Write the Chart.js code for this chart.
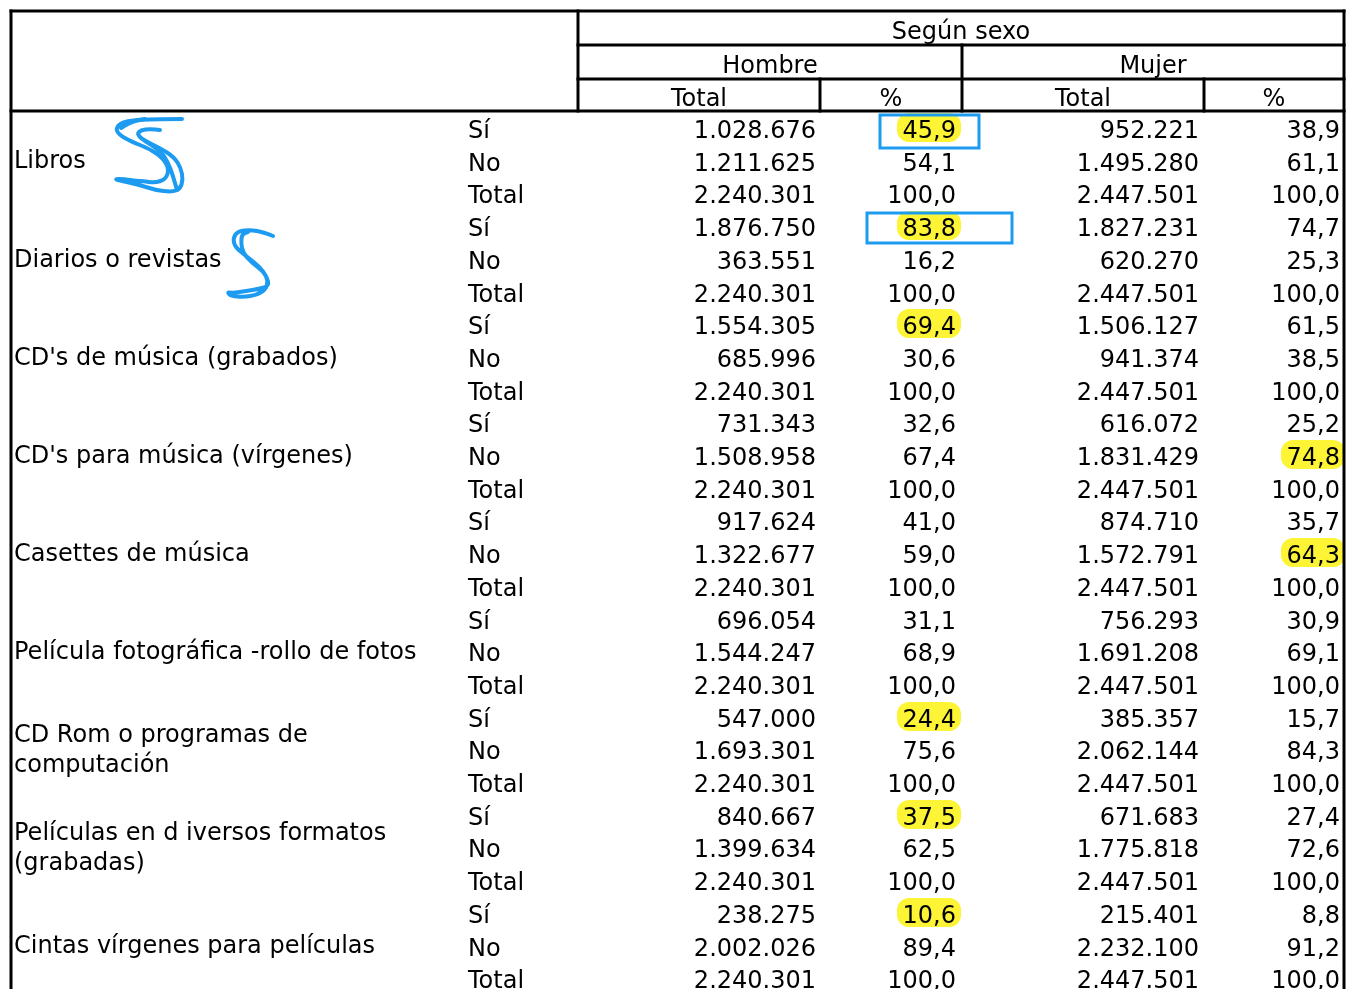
<!DOCTYPE html>
<html><head><meta charset="utf-8">
<script src="https://cdn.jsdelivr.net/npm/chart.js@4/dist/chart.umd.min.js"></script>
<style>html,body{margin:0;padding:0;background:#fff}#wrap{position:relative;width:1346px;height:989px}</style>
</head><body><div id="wrap"><canvas id="c"></canvas></div>
<script>
// ---------- DATA ----------
const categories = ['Libros', 'Diarios o revistas', "CD's de música (grabados)", "CD's para música (vírgenes)",
  'Casettes de música', 'Película fotográfica -rollo de fotos', 'CD Rom o programas de\ncomputación',
  'Películas en d iversos formatos\n(grabadas)', 'Cintas vírgenes para películas'];
const responses = ['Sí', 'No', 'Total'];
const headerTop = 'Según sexo';
const sexes = ['Hombre', 'Mujer'];
const subHeaders = ['Total', '%'];
const hombreTotal = [1028676, 1211625, 2240301, 1876750, 363551, 2240301, 1554305, 685996, 2240301,
  731343, 1508958, 2240301, 917624, 1322677, 2240301, 696054, 1544247, 2240301,
  547000, 1693301, 2240301, 840667, 1399634, 2240301, 238275, 2002026, 2240301];
const hombrePct = [45.9, 54.1, 100.0, 83.8, 16.2, 100.0, 69.4, 30.6, 100.0, 32.6, 67.4, 100.0, 41.0, 59.0, 100.0,
  31.1, 68.9, 100.0, 24.4, 75.6, 100.0, 37.5, 62.5, 100.0, 10.6, 89.4, 100.0];
const mujerTotal = [952221, 1495280, 2447501, 1827231, 620270, 2447501, 1506127, 941374, 2447501,
  616072, 1831429, 2447501, 874710, 1572791, 2447501, 756293, 1691208, 2447501,
  385357, 2062144, 2447501, 671683, 1775818, 2447501, 215401, 2232100, 2447501];
const mujerPct = [38.9, 61.1, 100.0, 74.7, 25.3, 100.0, 61.5, 38.5, 100.0, 25.2, 74.8, 100.0, 35.7, 64.3, 100.0,
  30.9, 69.1, 100.0, 15.7, 84.3, 100.0, 27.4, 72.6, 100.0, 8.8, 91.2, 100.0];
// highlighted cells [series, row]
const highlighted = [['hombrePct', 0], ['hombrePct', 3], ['hombrePct', 6], ['hombrePct', 18], ['hombrePct', 21],
  ['hombrePct', 24], ['mujerPct', 10], ['mujerPct', 13]];
const boxed = [['hombrePct', 0], ['hombrePct', 3]];

// ---------- LAYOUT (x in table units, y in row units) ----------
const FONT = '24px "DejaVu Sans", Verdana, sans-serif';
const ROW_PX = 32.7, ROW0_PX = 130, H = 989, W = 1346;
const colEdges = { left: 11, label: 578, hTot: 820, sexMid: 962, mTot: 1204, right: 1344 };
const anchors = { category: 14, response: 468, hombreTotal: 816, hombrePct: 956, mujerTotal: 1199, mujerPct: 1340 };
const hLines = { top: -3.639, sexo: -2.599, sex: -1.56, header: -0.581 };
const headerRows = { top: -3.03, sex: -2.0, sub: -0.98 };
const boxExtents = [{ x0: 880, x1: 979, t: -15, b: 18 }, { x0: 867, x1: 1012, t: -15, b: 15 }];

const fmtInt = n => String(n).replace(/\B(?=(\d{3})+(?!\d))/g, '.');
const fmtPct = v => v.toFixed(1).replace('.', ',');

const seriesMap = { hombreTotal, hombrePct, mujerTotal, mujerPct };
function numDataset(key, fmt) {
  return { label: key, key, align: 'right', fmt,
    data: seriesMap[key].map((v, i) => ({ x: anchors[key], y: i, t: fmt(v) })) };
}
const datasets = [
  { label: 'category', key: 'category', align: 'left',
    data: categories.map((c, g) => ({ x: anchors.category, y: g * 3 + 1 - 0.07, t: c })) },
  { label: 'response', key: 'response', align: 'left',
    data: hombreTotal.map((_, i) => ({ x: anchors.response, y: i, t: responses[i % 3] })) },
  numDataset('hombreTotal', fmtInt), numDataset('hombrePct', fmtPct),
  numDataset('mujerTotal', fmtInt), numDataset('mujerPct', fmtPct)
];
datasets.forEach(d => { d.pointRadius = 0; d.pointHoverRadius = 0; d.showLine = false; });

const scribbles = [
  [[182,119],[150,119],[125,121],[116,127],[118,134],[130,141],[150,149],[163,158],[169,169],[166,179],[155,183],[143,181],[136,181],[124,179],[114,179],[122,181],[140,185],[155,190],[172,192],[180,189],[183,180],[181,168],[174,157],[160,148],[143,140],[137,134],[141,130],[150,129],[160,130]],
  [[121,128],[130,122],[145,119]],
  [[145,141],[160,150],[168,162],[173,176],[177,190]],
  [[273,236],[263,232],[251,230],[238,231],[233,238],[235,247],[246,256],[259,266],[267,277],[269,286],[259,289],[246,291],[233,293],[227,292],[231,296],[244,297],[257,295],[266,289],[268,281],[264,272],[252,263],[243,253],[241,243],[242,234],[248,232]]
];

const tablePlugin = {
  id: 'tableDraw',
  beforeDatasetsDraw(chart) {
    const ctx = chart.ctx;
    ctx.save();
    ctx.font = FONT;
    ctx.fillStyle = '#fcf435';
    highlighted.forEach(([k, r]) => {
      const dsIndex = datasets.findIndex(d => d.key === k);
      const el = chart.getDatasetMeta(dsIndex).data[r];
      const txt = datasets[dsIndex].data[r].t;
      const w = ctx.measureText(txt).width;
      const x1 = el.x + 5, x0 = el.x - w - 6;
      const y0 = el.y - 17, y1 = el.y + 12;
      ctx.beginPath();
      ctx.roundRect(Math.round(x0), Math.round(y0), Math.round(x1 - x0), Math.round(y1 - y0), 12);
      ctx.fill();
    });
    ctx.restore();
  },
  afterDatasetsDraw(chart) {
    const ctx = chart.ctx, xs = chart.scales.x, ys = chart.scales.y;
    const X = v => Math.round(xs.getPixelForValue(v));
    const Y = v => Math.round(ys.getPixelForValue(v));
    ctx.save();
    ctx.font = FONT;
    ctx.fillStyle = '#000';
    ctx.textBaseline = 'alphabetic';
    datasets.forEach((ds, di) => {
      const meta = chart.getDatasetMeta(di);
      ctx.textAlign = ds.align;
      meta.data.forEach((el, i) => {
        const lines = ds.data[i].t.split('\n');
        const lh = 30;
        const start = el.y - (lines.length - 1) * lh / 2;
        lines.forEach((ln, j) => ctx.fillText(ln, el.x, start + j * lh + 8));
      });
    });
    ctx.textAlign = 'center';
    const mid = (a, b) => (X(a) + X(b)) / 2;
    ctx.fillText(headerTop, mid(colEdges.label, colEdges.right), Y(headerRows.top) + 8);
    ctx.fillText(sexes[0], mid(colEdges.label, colEdges.sexMid), Y(headerRows.sex) + 8);
    ctx.fillText(sexes[1], mid(colEdges.sexMid, colEdges.right), Y(headerRows.sex) + 8);
    ctx.fillText(subHeaders[0], mid(colEdges.label, colEdges.hTot), Y(headerRows.sub) + 8);
    ctx.fillText(subHeaders[1], mid(colEdges.hTot, colEdges.sexMid), Y(headerRows.sub) + 8);
    ctx.fillText(subHeaders[0], mid(colEdges.sexMid, colEdges.mTot), Y(headerRows.sub) + 8);
    ctx.fillText(subHeaders[1], mid(colEdges.mTot, colEdges.right), Y(headerRows.sub) + 8);
    ctx.strokeStyle = '#000';
    ctx.lineWidth = 3;
    ctx.lineCap = 'square';
    const line = (x0, y0, x1, y1) => { ctx.beginPath(); ctx.moveTo(x0, y0); ctx.lineTo(x1, y1); ctx.stroke(); };
    const yTop = Y(hLines.top), yS = Y(hLines.sexo), ySx = Y(hLines.sex), yH = Y(hLines.header);
    line(X(colEdges.left), yTop, X(colEdges.right), yTop);
    line(X(colEdges.label), yS, X(colEdges.right), yS);
    line(X(colEdges.label), ySx, X(colEdges.right), ySx);
    line(X(colEdges.left), yH, X(colEdges.right), yH);
    line(X(colEdges.left), yTop, X(colEdges.left), H + 2);
    line(X(colEdges.right), yTop, X(colEdges.right), H + 2);
    line(X(colEdges.label), yTop, X(colEdges.label), yH);
    line(X(colEdges.sexMid), yS, X(colEdges.sexMid), yH);
    line(X(colEdges.hTot), ySx, X(colEdges.hTot), yH);
    line(X(colEdges.mTot), ySx, X(colEdges.mTot), yH);
    ctx.strokeStyle = '#1d9bf0';
    ctx.lineWidth = 3;
    ctx.lineCap = 'butt';
    boxed.forEach(([k, r], bi) => {
      const dsIndex = datasets.findIndex(d => d.key === k);
      const el = chart.getDatasetMeta(dsIndex).data[r];
      const b = boxExtents[bi];
      ctx.strokeRect(X(b.x0), Math.round(el.y + b.t), X(b.x1) - X(b.x0), b.b - b.t);
    });
    ctx.lineWidth = 4;
    ctx.lineCap = 'round';
    ctx.lineJoin = 'round';
    scribbles.forEach(pts => {
      const P = pts.map(([px, py]) => [xs.getPixelForValue(px), ys.getPixelForValue((py - ROW0_PX) / ROW_PX)]);
      ctx.beginPath();
      ctx.moveTo(P[0][0], P[0][1]);
      for (let i = 1; i < P.length - 1; i++) {
        const mx = (P[i][0] + P[i + 1][0]) / 2, my = (P[i][1] + P[i + 1][1]) / 2;
        ctx.quadraticCurveTo(P[i][0], P[i][1], mx, my);
      }
      ctx.lineTo(P[P.length - 1][0], P[P.length - 1][1]);
      ctx.stroke();
    });
    ctx.restore();
  }
};

new Chart(document.getElementById('c'), {
  type: 'scatter',
  data: { datasets },
  options: {
    responsive: true, maintainAspectRatio: false, animation: false,
    layout: { padding: 0 },
    events: [],
    plugins: { legend: { display: false }, tooltip: { enabled: false } },
    scales: {
      x: { type: 'linear', display: false, min: 0, max: W },
      y: { type: 'linear', display: false, reverse: true, min: -ROW0_PX / ROW_PX, max: (H - ROW0_PX) / ROW_PX }
    }
  },
  plugins: [tablePlugin]
});
</script></body></html>
